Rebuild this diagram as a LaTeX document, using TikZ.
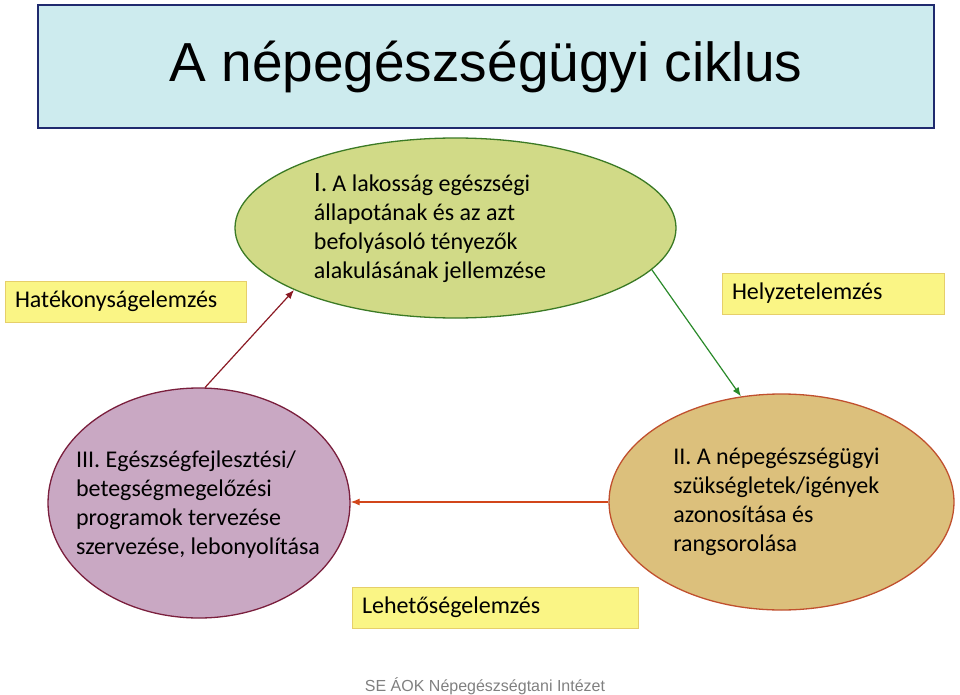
\documentclass[tikz,border=0pt]{standalone}
\usepackage{fontspec}
\setmainfont{Carlito}
\newfontfamily\arialfont{Liberation Sans}
\usepackage{xcolor}
\usepackage{tikz}
\usetikzlibrary{arrows.meta,positioning,shapes.geometric}
\definecolor{titlecyan}{HTML}{CDEBEE}
\definecolor{titlenavy}{HTML}{1F2A6E}
\definecolor{stagegreen}{HTML}{D1DA87}
\definecolor{stagegreenline}{HTML}{3B7A25}
\definecolor{stagepurple}{HTML}{C9A8C3}
\definecolor{stagepurpleline}{HTML}{7A1F3D}
\definecolor{stageorange}{HTML}{DCC07C}
\definecolor{stageorangeline}{HTML}{C0502E}
\definecolor{notefill}{HTML}{FAF585}
\definecolor{noteline}{HTML}{E6CF6A}
\definecolor{arrowred}{HTML}{8B1A24}
\definecolor{arrowgreen}{HTML}{2A8A2A}
\definecolor{arroworange}{HTML}{D2461A}
\definecolor{footgray}{HTML}{808080}
\tikzset{
  titlebox/.style={draw=titlenavy, fill=titlecyan, line width=1.4pt, minimum width=896pt, minimum height=123pt, inner sep=0pt, font=\arialfont\fontsize{55}{60}\selectfont},
  stage/.style={ellipse, line width=1.3pt, inner sep=0pt},
  greenstage/.style={stage, draw=stagegreenline, fill=stagegreen},
  purplestage/.style={stage, draw=stagepurpleline, fill=stagepurple},
  orangestage/.style={stage, draw=stageorangeline, fill=stageorange},
  stagetext/.style={align=left, inner sep=0pt, font=\fontsize{24}{29}\selectfont},
  notebox/.style={draw=noteline, fill=notefill, line width=1pt, minimum height=41pt, inner xsep=10pt, inner ysep=0pt, align=left, font=\fontsize{24}{29}\selectfont},
  flow/.style={-{Latex[length=9pt,width=7pt]}, line width=1.2pt}
}
\begin{document}
\begin{tikzpicture}[x=1pt, y=-1pt]
  \useasboundingbox (0,0) rectangle (960,695);
  \node[titlebox] (title) at (486,66.5) {A népegészségügyi ciklus};
  % the three stages of the cycle
  \node[greenstage, minimum width=441pt, minimum height=180pt] (status) at (455.5,228) {};
  \node[orangestage, minimum width=345pt, minimum height=216pt] (needs) at (781.5,502) {};
  \node[purplestage, minimum width=302pt, minimum height=230pt] (programs) at (199,503) {};
  \node[stagetext] (statustext) at (430,228) {{\fontsize{28}{29}\selectfont I}. A lakosság egészségi\\állapotának és az azt\\befolyásoló tényezők\\alakulásának jellemzése};
  \node[stagetext] (needstext) at (776.5,502) {II. A népegészségügyi\\szükségletek/igények\\azonosítása és\\rangsorolása};
  \node[stagetext] (programstext) at (198,505) {III. Egészségfejlesztési/\\betegségmegelőzési\\programok tervezése\\szervezése, lebonyolítása};
  % analysis labels
  \node[notebox, text width=221pt] (efficiency) at (125.5,301.5) {Hatékonyságelemzés};
  \node[notebox, text width=202pt] (situation) at (833,293.5) {Helyzetelemzés};
  \node[notebox, text width=266pt] (options) at (495,607.5) {Lehetőségelemzés};
  \draw[flow, arrowgreen] (status.348) -- (needs.111);
  \draw[flow, arroworange] (needs.west) -- (needs.west -| programs.east);
  \draw[flow, arrowred] (programs.87) -- (status.201);
  \node[font=\arialfont\fontsize{16}{19}\selectfont, text=footgray] (footer) at (485,686) {SE ÁOK Népegészségtani Intézet};
\end{tikzpicture}
\end{document}
